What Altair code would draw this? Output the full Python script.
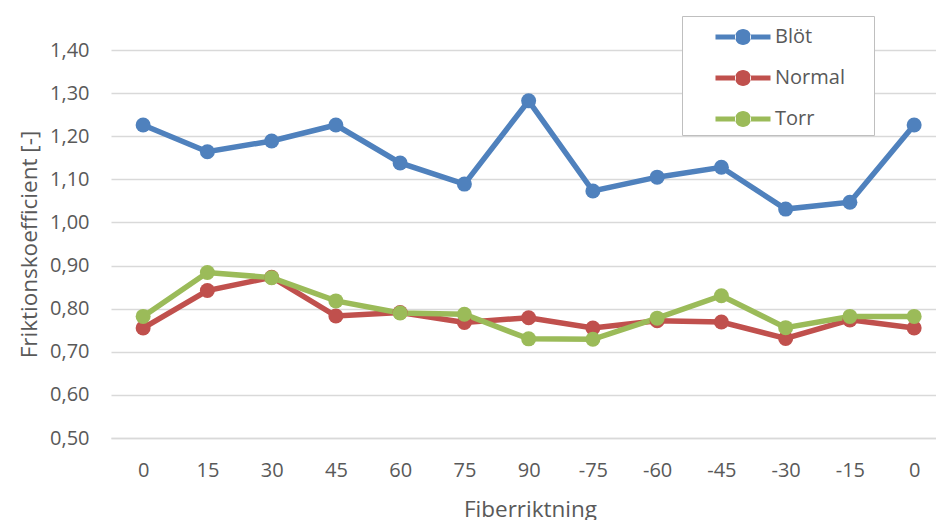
import altair as alt
import pandas as pd

x_labels = ["0", "15", "30", "45", "60", "75", "90", "-75", "-60", "-45", "-30", "-15", "0"]
series_names = ["Blöt", "Normal", "Torr"]
blot = [1.226, 1.164, 1.189, 1.226, 1.138, 1.089, 1.282, 1.073, 1.105, 1.128, 1.031, 1.047, 1.226]
normal = [0.755, 0.842, 0.873, 0.783, 0.791, 0.768, 0.779, 0.755, 0.772, 0.769, 0.731, 0.774, 0.755]
torr = [0.782, 0.884, 0.872, 0.818, 0.790, 0.787, 0.730, 0.729, 0.778, 0.830, 0.756, 0.782, 0.782]
colors = ["#4f81bd", "#c0504d", "#9bbb59"]
y_ticks = [0.5, 0.6, 0.7, 0.8, 0.9, 1.0, 1.1, 1.2, 1.3, 1.4]

rows = []
for name, vals in zip(series_names, [blot, normal, torr]):
    for i, v in enumerate(vals):
        rows.append({"idx": i, "serie": name, "value": v})
df = pd.DataFrame(rows)

FONT = "Open Sans"
label_arr = "[" + ",".join("'%s'" % s for s in x_labels) + "]"
x_positions = list(range(len(x_labels)))

x_enc = alt.X(
    "idx:Q",
    scale=alt.Scale(domain=[-0.5, 12.34], nice=False, zero=False),
    axis=alt.Axis(
        title="Fiberriktning",
        values=x_positions,
        labelExpr=label_arr + "[datum.value]",
        labelAngle=0,
        ticks=False,
        grid=False,
        domainColor="#d9d9d9",
        domainWidth=1.5,
        labelPadding=22,
        titlePadding=18,
        titleX=419,
    ),
)
y_enc = alt.Y(
    "value:Q",
    scale=alt.Scale(domain=[0.5, 1.4], nice=False, zero=False),
    axis=alt.Axis(
        title="Friktionskoefficient [-]",
        values=y_ticks,
        labelExpr="replace(format(datum.value, '.2f'), '.', ',')",
        ticks=False,
        domain=False,
        gridColor="#d9d9d9",
        gridWidth=1.3,
        labelPadding=22,
        titlePadding=8,
    ),
)
color_scale = alt.Scale(domain=series_names, range=colors)

symbol_path = ("M0.833,-0.167 L2.2,-0.167 L2.2,0.167 L0.833,0.167 Z "
               "M3.14,-0.167 L4.5,-0.167 L4.5,0.167 L3.14,0.167 Z "
               "M2.137,0 A0.533,0.533 0 1,0 3.203,0 A0.533,0.533 0 1,0 2.137,0 Z")

legend = alt.Legend(
    title="\u00a0",
    titleOrient="right",
    titleFontSize=10,
    titlePadding=23,
    orient="none",
    legendX=571,
    legendY=-34,
    symbolType=symbol_path,
    symbolSize=900,
    symbolStrokeWidth=0,
    symbolOpacity=1,
    labelOffset=57,
    rowPadding=16,
    padding=6,
    strokeColor="#bfbfbf",
    fillColor="white",
    labelFontSize=20,
    labelFont=FONT,
    labelColor="#595959",
)

lines = alt.Chart(df).mark_line(strokeWidth=5.5).encode(
    x=x_enc, y=y_enc,
    color=alt.Color("serie:N", scale=color_scale, sort=series_names, legend=legend),
    order=alt.Order("idx:Q"),
)
points = alt.Chart(df).mark_point(filled=True, size=225, opacity=1).encode(
    x=x_enc, y=y_enc,
    color=alt.Color("serie:N", scale=color_scale, sort=series_names, legend=legend),
)

chart = alt.layer(lines, points).properties(
    width=825, height=388,
    autosize=alt.AutoSizeParams(type="none"),
    padding={"left": 111, "top": 50, "right": 0, "bottom": 82},
).configure_view(stroke=None).configure_axis(
    labelFont=FONT, titleFont=FONT, labelFontSize=20, titleFontSize=22.5,
    labelColor="#595959", titleColor="#595959", titleFontWeight="normal",
)

chart.save("out.html", embed_options={"renderer": "svg", "actions": False})
